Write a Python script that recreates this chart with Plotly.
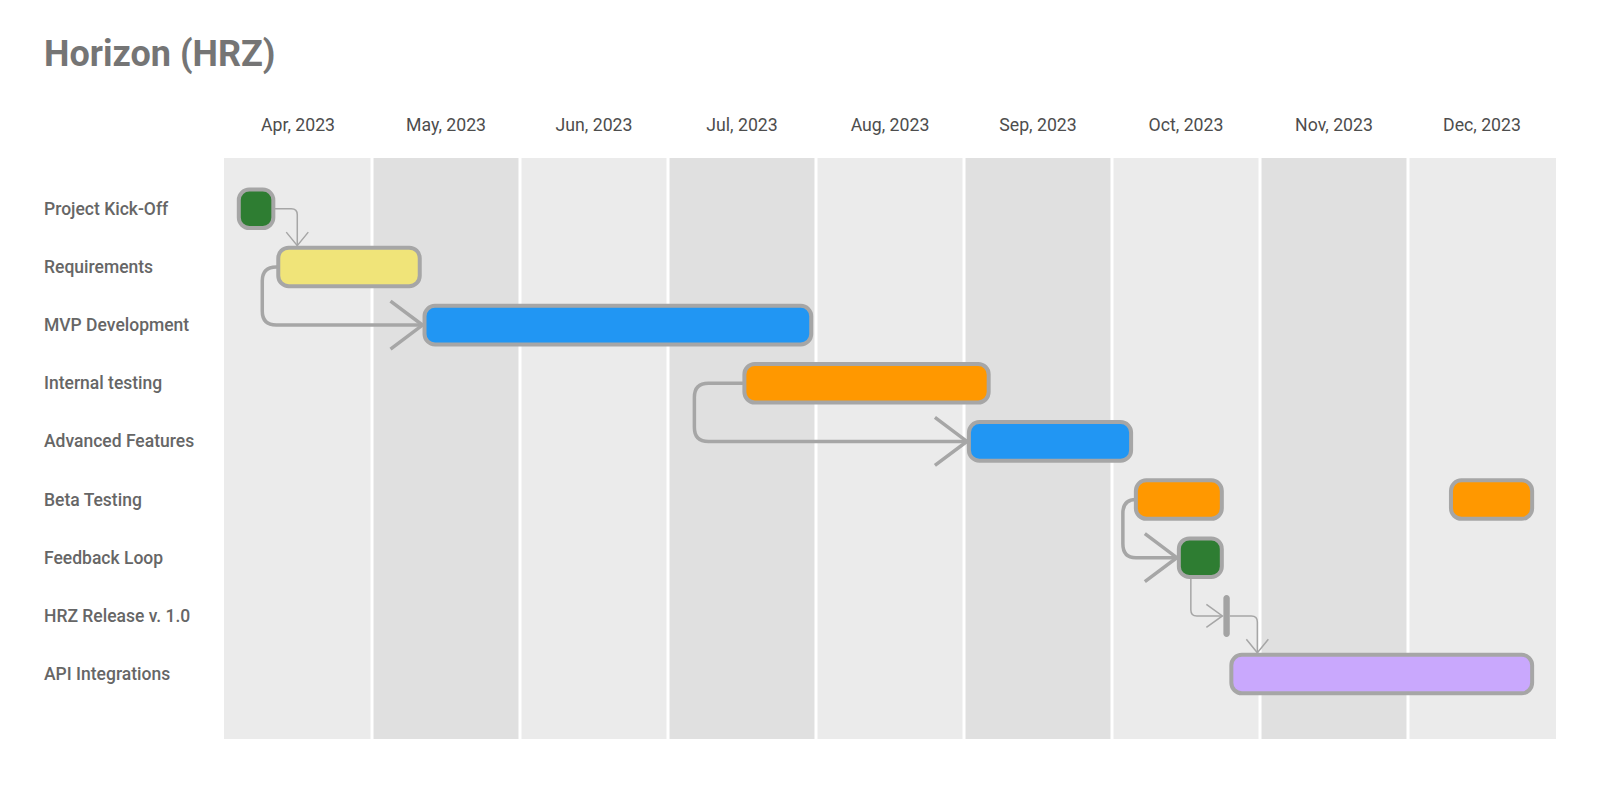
import calendar
from datetime import date
import plotly.graph_objects as go

# ---------------- data ----------------
title = "Horizon (HRZ)"
month_labels = ["Apr, 2023", "May, 2023", "Jun, 2023", "Jul, 2023", "Aug, 2023",
                "Sep, 2023", "Oct, 2023", "Nov, 2023", "Dec, 2023"]
first_month = "2023-04-01"

tasks = ["Project Kick-Off", "Requirements", "MVP Development", "Internal testing",
         "Advanced Features", "Beta Testing", "Feedback Loop", "HRZ Release v. 1.0",
         "API Integrations"]

item_task = ["Project Kick-Off", "Requirements", "MVP Development", "Internal testing",
             "Advanced Features", "Beta Testing", "Beta Testing", "Feedback Loop",
             "HRZ Release v. 1.0", "API Integrations"]
item_start = ["2023-04-04", "2023-04-12", "2023-05-12", "2023-07-17", "2023-09-02",
              "2023-10-06", "2023-12-10", "2023-10-15", "2023-10-25", "2023-10-26"]
item_end = ["2023-04-11", "2023-05-11", "2023-07-31", "2023-09-06", "2023-10-05",
            "2023-10-24", "2023-12-27", "2023-10-24", "2023-10-25", "2023-12-27"]
item_kind = ["bar", "bar", "bar", "bar", "bar", "bar", "bar", "bar", "milestone", "bar"]
item_color = ["#2E7D32", "#F0E479", "#2196F3", "#FF9800", "#2196F3",
              "#FF9800", "#FF9800", "#2E7D32", "#A3A3A3", "#C9A8FD"]

# dependencies (item indices)
dep_from = [0, 1, 3, 5, 7, 8]
dep_to = [1, 2, 4, 7, 8, 9]
dep_style = ["thin_down", "thick_left", "thick_left", "thick_left", "thin_bottom", "thin_down"]
dep_elbow_px = [19, 16, 50, 13, 12, 26]

# ---------------- layout geometry / styles ----------------
W, H = 1600, 800
ML, MR, MT, MB = 224, 44, 158, 61
PW, PH = W - ML - MR, H - MT - MB
Y_TOP, Y_BOT = -0.873, len(tasks) - 1 + 1.117
KX = PW / len(month_labels)          # px per month unit
KY = PH / (Y_BOT - Y_TOP)            # px per row unit

BORDER = "#A6A6A6"
LINE = "#A6A6A6"
BG = ["#EBEBEB", "#E0E0E0"]


def dx(p):
    return p / KX


def dy(p):
    return p / KY


def mpos(s):
    d = date.fromisoformat(s)
    d0 = date.fromisoformat(first_month)
    m = (d.year - d0.year) * 12 + d.month - d0.month
    return m + (d.day - 1) / calendar.monthrange(d.year, d.month)[1]


row_of = {t: i for i, t in enumerate(tasks)}
HH = dy(19.3)
K = 0.5523


def rrect(x0, x1, yc, hh, r):
    rx = min(dx(r), (x1 - x0) / 2)
    ry = min(dy(r), hh)
    y0, y1 = yc - hh, yc + hh
    return (f"M{x0+rx},{y0} L{x1-rx},{y0} "
            f"C{x1-rx+K*rx},{y0} {x1},{y0+ry-K*ry} {x1},{y0+ry} "
            f"L{x1},{y1-ry} C{x1},{y1-ry+K*ry} {x1-rx+K*rx},{y1} {x1-rx},{y1} "
            f"L{x0+rx},{y1} C{x0+rx-K*rx},{y1} {x0},{y1-ry+K*ry} {x0},{y1-ry} "
            f"L{x0},{y0+ry} C{x0},{y0+ry-K*ry} {x0+rx-K*rx},{y0} {x0+rx},{y0} Z")


items = []
for t, s, e, k, c in zip(item_task, item_start, item_end, item_kind, item_color):
    x0, x1 = mpos(s), mpos(e)
    if k == "milestone":
        x0, x1 = x0 - dx(3.2), x0 + dx(3.2)
    items.append(dict(task=t, x0=x0, x1=x1, row=row_of[t], kind=k, color=c))

shapes = []
# month columns
for i in range(len(month_labels)):
    shapes.append(dict(type="rect", xref="x", yref="paper", x0=i, x1=i + 1, y0=0, y1=1,
                       fillcolor=BG[i % 2], line=dict(width=0), layer="below"))
for i in range(1, len(month_labels)):
    shapes.append(dict(type="line", xref="x", yref="paper", x0=i, x1=i, y0=0, y1=1,
                       line=dict(color="white", width=3), layer="below"))


def pathshape(p, width, color=LINE):
    return dict(type="path", xref="x", yref="y", path=p,
                line=dict(color=color, width=width), fillcolor="rgba(0,0,0,0)")


# connectors
for f, t, st, off in zip(dep_from, dep_to, dep_style, dep_elbow_px):
    a, b = items[f], items[t]
    ya, yb = a["row"], b["row"]
    if st == "thick_left":
        xs = a["x0"]
        xe = xs - dx(off)
        r = min(14, off)
        rx, ry = dx(r), dy(14)
        xt = b["x0"] - dx(2)
        p = (f"M{xs},{ya} L{xe+rx},{ya} Q{xe},{ya} {xe},{ya+ry} "
             f"L{xe},{yb-ry} Q{xe},{yb} {xe+rx},{yb} L{xt},{yb}")
        shapes.append(pathshape(p, 3.5))
        ah = f"M{xt-dx(32)},{yb-dy(24)} L{xt},{yb} L{xt-dx(32)},{yb+dy(24)}"
        shapes.append(pathshape(ah, 3.5))
    elif st == "thin_down":
        xs = a["x1"]
        xe = b["x0"] + dx(off)
        rx, ry = dx(6), dy(6)
        yt = yb - HH - dy(2)
        p = f"M{xs},{ya} L{xe-rx},{ya} Q{xe},{ya} {xe},{ya+ry} L{xe},{yt}"
        shapes.append(pathshape(p, 1.5))
        ah = f"M{xe-dx(11)},{yt-dy(13.5)} L{xe},{yt} L{xe+dx(11)},{yt-dy(13.5)}"
        shapes.append(pathshape(ah, 1.5))
    elif st == "thin_bottom":
        xe = a["x0"] + dx(off)
        ys = ya + HH
        rx, ry = dx(6), dy(6)
        xt = b["x0"] - dx(1)
        p = f"M{xe},{ys} L{xe},{yb-ry} Q{xe},{yb} {xe+rx},{yb} L{xt},{yb}"
        shapes.append(pathshape(p, 1.5))
        ah = f"M{xt-dx(16)},{yb-dy(11.5)} L{xt},{yb} L{xt-dx(16)},{yb+dy(11.5)}"
        shapes.append(pathshape(ah, 1.5))

# bars and milestones
for it in items:
    if it["kind"] == "bar":
        shapes.append(dict(type="path", xref="x", yref="y",
                           path=rrect(it["x0"], it["x1"], it["row"], HH, 10.5),
                           fillcolor=it["color"], line=dict(color=BORDER, width=4)))
    else:
        shapes.append(dict(type="path", xref="x", yref="y",
                           path=rrect(it["x0"], it["x1"], it["row"], dy(21), 3.2),
                           fillcolor=it["color"], line=dict(width=0)))

# row labels
annotations = []
for i, t in enumerate(tasks):
    annotations.append(dict(text=t, xref="paper", yref="y", x=(42 - ML) / PW, y=i,
                            xanchor="left", yanchor="middle", showarrow=False,
                            font=dict(family="Roboto", size=17.5, color="#666666",
                                      weight=500)))

fig = go.Figure()
fig.add_trace(go.Scatter(
    x=[(it["x0"] + it["x1"]) / 2 for it in items],
    y=[it["row"] for it in items],
    mode="markers", marker=dict(opacity=0),
    text=[f"{t}: {s} – {e}" for t, s, e in zip(item_task, item_start, item_end)],
    hoverinfo="text", showlegend=False))

fig.update_layout(
    width=W, height=H,
    margin=dict(l=ML, r=MR, t=MT, b=MB, pad=0),
    paper_bgcolor="white", plot_bgcolor="white",
    title=dict(text=title, x=44 / W, xref="container", xanchor="left",
               y=1 - 53 / H, yref="container", yanchor="middle",
               font=dict(family="Roboto", size=36, color="#757575", weight="bold")),
    xaxis=dict(range=[0, len(month_labels)], side="top",
               tickvals=[i + 0.5 for i in range(len(month_labels))],
               ticktext=month_labels, ticks="outside", ticklen=19,
               tickcolor="rgba(0,0,0,0)", showgrid=False, zeroline=False,
               showline=False, fixedrange=True,
               tickfont=dict(family="Roboto", size=17.7, color="#4D4D4D")),
    yaxis=dict(range=[Y_BOT, Y_TOP], visible=False, fixedrange=True),
    shapes=shapes, annotations=annotations,
    showlegend=False, font=dict(family="Roboto"),
)

fig.write_html("out.html", config={"displayModeBar": False})
